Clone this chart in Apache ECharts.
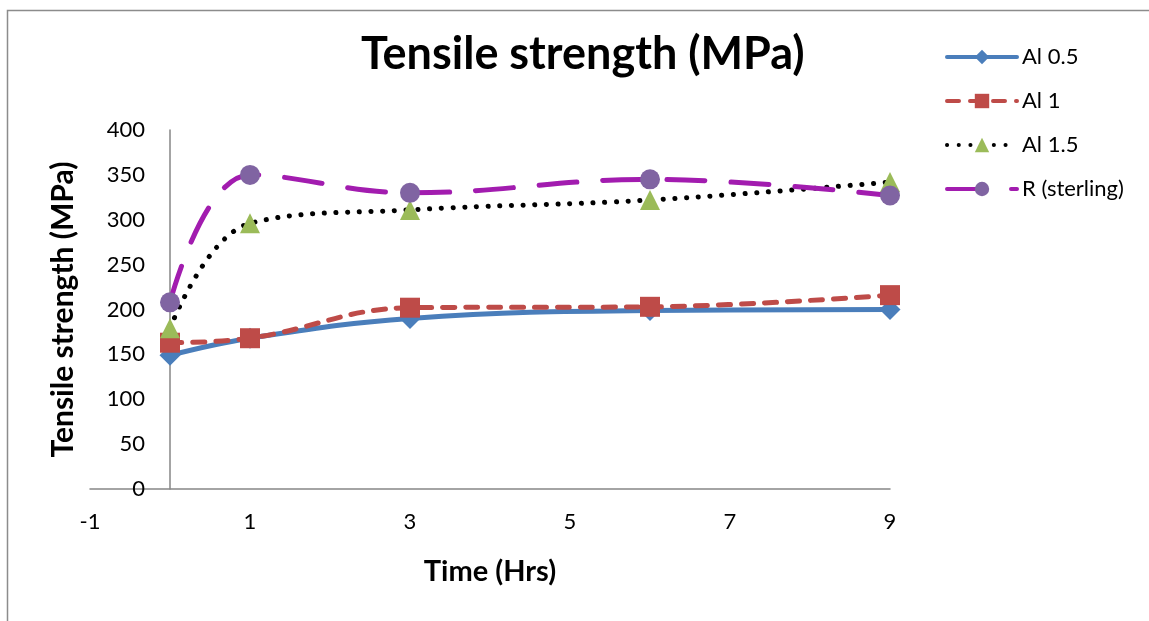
<!DOCTYPE html>
<html>
<head>
<meta charset="utf-8">
<script src="https://cdn.jsdelivr.net/npm/echarts@6/dist/echarts.min.js"></script>
<style>
  html, body { margin: 0; padding: 0; background: #fff; }
  #chart { width: 1149px; height: 621px; }
</style>
</head>
<body>
<div id="chart"></div>
<script>
// Time points (hours) and tensile strength readings (MPa)
const hours = [0, 1, 3, 6, 9];
const al05 = [149, 168, 190, 199, 200];
const al1 = [163, 168, 202, 203, 216];
const al15 = [179, 296, 311, 322, 342];
const rSterling = [208, 350, 330, 345, 327];

const xTicks = { min: -1, max: 9, interval: 2 };
const yTicks = { min: 0, max: 400, interval: 50 };

const FONT = 'Lato, "Liberation Sans", sans-serif';

function pairs(values) {
  return hours.map((h, i) => [h, values[i]]);
}

const chart = echarts.init(document.getElementById('chart'), null, { renderer: 'canvas' });

chart.setOption({
  animation: false,
  backgroundColor: '#ffffff',
  textStyle: { fontFamily: FONT },
  graphic: [{
    type: 'rect',
    shape: { x: 7.5, y: 10.5, width: 1200, height: 700 },
    style: { fill: 'none', stroke: '#8c8c8c', lineWidth: 1.5 },
    silent: true,
    z: -10
  }],
  title: {
    text: 'Tensile strength (MPa)',
    left: 356,
    top: 27,
    textStyle: { fontFamily: FONT, fontSize: 45, fontWeight: 'bold', color: '#000' }
  },
  legend: {
    orient: 'vertical',
    left: 940,
    top: 41,
    itemWidth: 70,
    itemHeight: 18,
    itemGap: 22,
    textStyle: { fontFamily: FONT, fontSize: 22, color: '#000' },
    lineStyle: { width: 4, cap: 'round' },
    data: ['Al 0.5', 'Al 1', 'Al 1.5', 'R (sterling)']
  },
  grid: { left: 90, right: 259, top: 130, bottom: 132, containLabel: false, outerBoundsMode: 'none' },
  xAxis: {
    type: 'value',
    min: xTicks.min,
    max: xTicks.max,
    interval: xTicks.interval,
    name: 'Time (Hrs)',
    nameLocation: 'middle',
    nameGap: 68,
    nameTextStyle: { fontFamily: FONT, fontSize: 29, fontWeight: 'bold', color: '#000' },
    axisLine: { onZero: false, lineStyle: { color: '#868686', width: 1.5 } },
    axisTick: { show: false },
    splitLine: { show: false },
    axisLabel: { fontFamily: FONT, fontSize: 22, color: '#000', margin: 22 }
  },
  yAxis: {
    type: 'value',
    min: yTicks.min,
    max: yTicks.max,
    interval: yTicks.interval,
    name: 'Tensile strength (MPa)',
    nameLocation: 'middle',
    nameGap: 12,
    nameTextStyle: { fontFamily: FONT, fontSize: 30, fontWeight: 'bold', color: '#000' },
    axisLine: { show: true, onZero: true, lineStyle: { color: '#868686', width: 1.5 } },
    axisTick: { show: false },
    splitLine: { show: false },
    // labels sit just left of the vertical line drawn at time 0
    axisLabel: { fontFamily: FONT, fontSize: 22, color: '#000', margin: -55 }
  },
  series: [
    {
      name: 'Al 0.5',
      type: 'line',
      smooth: 0.4,
      data: pairs(al05),
      symbol: 'diamond',
      symbolSize: 21,
      itemStyle: { color: '#4a7ebb' },
      lineStyle: { color: '#4a7ebb', width: 5 },
      z: 2
    },
    {
      name: 'Al 1',
      type: 'line',
      smooth: 0.4,
      data: pairs(al1),
      symbol: 'rect',
      symbolSize: 20,
      itemStyle: { color: '#be4b48' },
      lineStyle: { color: '#be4b48', width: 5, type: [12, 11], cap: 'round' },
      z: 3
    },
    {
      name: 'Al 1.5',
      type: 'line',
      smooth: 0.4,
      data: pairs(al15),
      symbol: 'triangle',
      symbolSize: 20,
      itemStyle: { color: '#9bbb59' },
      lineStyle: { color: '#000000', width: 5, type: [0.1, 11.6], cap: 'round' },
      z: 4
    },
    {
      name: 'R (sterling)',
      type: 'line',
      smooth: 0.4,
      data: pairs(rSterling),
      symbol: 'circle',
      symbolSize: 20,
      itemStyle: { color: '#8064a2' },
      lineStyle: { color: '#a21caf', width: 5, type: [38, 26], cap: 'round' },
      z: 5
    }
  ]
});
</script>
</body>
</html>
